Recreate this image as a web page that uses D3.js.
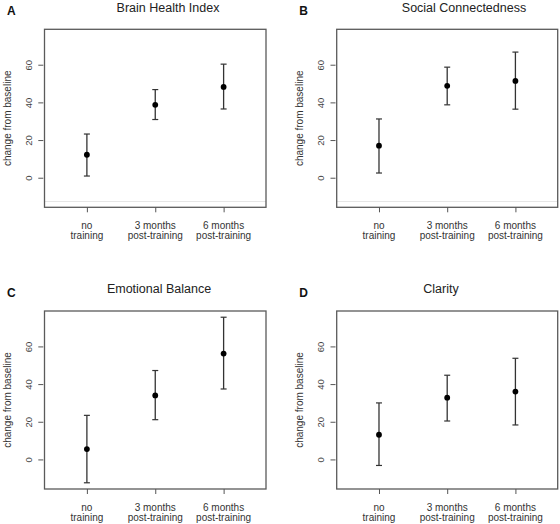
<!DOCTYPE html>
<html>
<head>
<meta charset="utf-8">
<script src="https://cdn.jsdelivr.net/npm/d3@7"></script>
<style>
  body { margin: 0; background: #fff; }
  svg { display: block; font-family: "Liberation Sans", Arial, sans-serif; }
</style>
</head>
<body>
<svg id="chart"></svg>
<script>
const width = 560;
const height = 524;

// data
const categories = [['no', 'training'], ['3 months', 'post-training'], ['6 months', 'post-training']];
const panelLetters = ['A', 'B', 'C', 'D'];
const panelTitles = ['Brain Health Index', 'Social Connectedness', 'Emotional Balance', 'Clarity'];
const means = [
    [12.2, 38.7, 48.2],
    [17.0, 48.8, 51.4],
    [5.5, 34.0, 56.2],
    [13.1, 32.8, 36.0]
];
const upper = [
    [23.2, 46.8, 60.3],
    [31.2, 58.7, 66.7],
    [23.4, 47.2, 75.5],
    [30.0, 44.7, 53.7]
];
const lower = [
    [0.9, 30.9, 36.5],
    [2.5, 38.7, 36.4],
    [-12.4, 21.1, 37.4],
    [-3.2, 20.4, 18.3]
];
const yTicks = [0, 20, 40, 60];
const yLabel = 'change from baseline';

// panel boxes
const boxes = [
    { x0: 44.5, x1: 266, y0: 29.3, y1: 207.3, titleX: 168, faint: true },
    { x0: 336.7, x1: 557.7, y0: 29.3, y1: 207.3, titleX: 464, faint: true },
    { x0: 44.5, x1: 266, y0: 311, y1: 489, titleX: 159, faint: false },
    { x0: 336.7, x1: 557.7, y0: 311, y1: 489, titleX: 441, faint: false }
];

const svg = d3.select('#chart')
    .attr('width', width)
    .attr('height', height);

boxes.forEach((b, p) => {
    const g = svg.append('g').attr('class', 'panel');

    const x = d3.scaleLinear().domain([0.38, 3.62]).range([b.x0, b.x1]);
    const y = d3.scaleLinear().domain([-15.7, 78.8]).range([b.y1, b.y0]);

    const rows = categories.map((c, i) => ({
        i: i + 1,
        label: c,
        mean: means[p][i],
        hi: upper[p][i],
        lo: lower[p][i]
    }));

    // faint line near the bottom (as in the scan)
    if (b.faint) {
        g.append('line')
            .attr('x1', b.x0).attr('x2', b.x1)
            .attr('y1', b.y1 - 5.8).attr('y2', b.y1 - 5.8)
            .attr('stroke', '#e6e6e6')
            .attr('stroke-width', 1);
    }

    // box
    g.append('rect')
        .attr('x', b.x0).attr('y', b.y0)
        .attr('width', b.x1 - b.x0).attr('height', b.y1 - b.y0)
        .attr('fill', 'none')
        .attr('stroke', '#5a5a5a')
        .attr('stroke-width', 1.3);

    // y axis ticks (no axis line, labels parallel to the axis)
    const yAxis = d3.axisLeft(y).tickValues(yTicks).tickSize(5).tickPadding(0).tickFormat(d3.format('d'));
    const ya = g.append('g')
        .attr('transform', `translate(${b.x0 - 1.2},0)`)
        .call(yAxis);
    ya.select('.domain').remove();
    ya.selectAll('.tick line').attr('stroke', '#555');
    ya.selectAll('.tick text')
        .attr('x', 0).attr('y', 0).attr('dy', 0)
        .attr('transform', 'translate(-11.5,0) rotate(-90)')
        .attr('text-anchor', 'middle')
        .attr('fill', '#444')
        .style('font-size', '9.5px');

    // x axis ticks
    const xAxis = d3.axisBottom(x).tickValues([1, 2, 3]).tickSize(5).tickFormat('');
    const xa = g.append('g')
        .attr('transform', `translate(0,${b.y1})`)
        .call(xAxis);
    xa.select('.domain').remove();
    xa.selectAll('.tick line').attr('stroke', '#555');

    // x tick labels, two lines each
    const lbl = g.selectAll('.xlab')
        .data(rows)
        .enter()
        .append('text')
        .attr('class', 'xlab')
        .attr('text-anchor', 'middle')
        .attr('fill', '#333')
        .style('font-size', '10px');
    lbl.append('tspan')
        .attr('x', d => x(d.i))
        .attr('y', b.y1 + 21.5)
        .text(d => d.label[0]);
    lbl.append('tspan')
        .attr('x', d => x(d.i))
        .attr('y', b.y1 + 31.8)
        .text(d => d.label[1]);

    // error bars
    g.selectAll('.bar')
        .data(rows)
        .enter()
        .append('line')
        .attr('class', 'bar')
        .attr('x1', d => x(d.i)).attr('x2', d => x(d.i))
        .attr('y1', d => y(d.lo)).attr('y2', d => y(d.hi))
        .attr('stroke', '#333')
        .attr('stroke-width', 1.3);

    const caps = rows.flatMap(d => [{ i: d.i, v: d.lo }, { i: d.i, v: d.hi }]);
    g.selectAll('.cap')
        .data(caps)
        .enter()
        .append('line')
        .attr('class', 'cap')
        .attr('x1', d => x(d.i) - 3).attr('x2', d => x(d.i) + 3)
        .attr('y1', d => y(d.v)).attr('y2', d => y(d.v))
        .attr('stroke', '#333')
        .attr('stroke-width', 1.2);

    // points
    g.selectAll('.pt')
        .data(rows)
        .enter()
        .append('circle')
        .attr('class', 'pt')
        .attr('cx', d => x(d.i))
        .attr('cy', d => y(d.mean))
        .attr('r', 2.9)
        .attr('fill', '#000');

    // y axis label
    const labX = b.x0 - 33.5;
    g.append('text')
        .attr('transform', `translate(${labX},${(b.y0 + b.y1) / 2}) rotate(-90)`)
        .attr('text-anchor', 'middle')
        .attr('fill', '#333')
        .style('font-size', '10px')
        .text(yLabel);

    // title
    g.append('text')
        .attr('x', b.titleX)
        .attr('y', b.y0 - 17.8)
        .attr('text-anchor', 'middle')
        .attr('fill', '#222')
        .style('font-size', '12.5px')
        .text(panelTitles[p]);

    // panel letter
    g.append('text')
        .attr('x', b.x0 - 37.5)
        .attr('y', b.y0 - 14.2)
        .attr('fill', '#111')
        .style('font-size', '12px')
        .style('font-weight', 'bold')
        .text(panelLetters[p]);
});
</script>
</body>
</html>
